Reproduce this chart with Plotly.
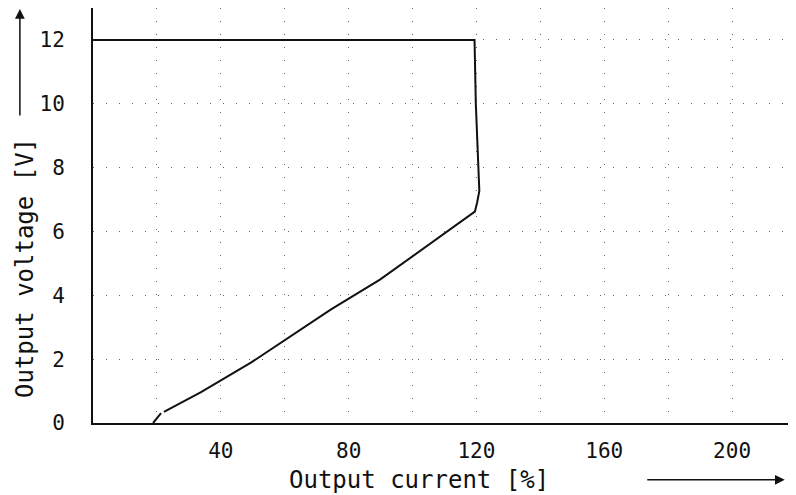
import plotly.graph_objects as go

# Data
current = [0, 119.4, 119.8, 120.4, 120.8, 120.9, 120.2, 119.5, 89.8, 74.5, 49.4, 33.8, 22.2, None, 21.3, 19.9, 18.8]
voltage = [12, 12, 10, 8.26, 7.74, 7.27, 6.90, 6.62, 4.49, 3.56, 1.89, 0.97, 0.35, None, 0.31, 0.14, 0]

x_grid = [20, 40, 60, 80, 100, 120, 140, 160, 180, 200]
x_labels = ["", "40", "", "80", "", "120", "", "160", "", "200"]
y_ticks = [0, 2, 4, 6, 8, 10, 12]
y_labels = ["0", "2", "4", "6", "8", "10", "12"]

FONT = "DejaVu Sans Mono"
INK = "#111111"

fig = go.Figure()
fig.add_trace(go.Scatter(x=current, y=voltage, mode="lines",
                         line=dict(color=INK, width=2), showlegend=False,
                         connectgaps=False))

grid = dict(showgrid=True, gridcolor="#666666", gridwidth=1, griddash="1px,12px",
            zeroline=False, showline=True, linecolor=INK, linewidth=2,
            ticks="", tickfont=dict(family=FONT, size=21, color=INK))

fig.update_xaxes(range=[0, 220], tickvals=x_grid, ticktext=x_labels,
                 ticklabelstandoff=8, **grid)
fig.update_yaxes(range=[0, 13], tickvals=y_ticks, ticktext=y_labels,
                 ticklabelstandoff=22, **grid)

fig.add_annotation(text="Output current [%]", xref="paper", yref="paper",
                   x=0.4637, y=-0.137, xanchor="center", yanchor="middle",
                   showarrow=False, font=dict(family=FONT, size=24, color=INK))
fig.add_annotation(text="Output voltage [V]", xref="paper", yref="paper",
                   x=-0.0967, y=0.3735, xanchor="center", yanchor="middle",
                   textangle=-90, showarrow=False,
                   font=dict(family=FONT, size=24, color=INK))
# axis direction arrows
fig.add_annotation(text="", xref="paper", yref="paper", x=0.984, y=-0.137,
                   ax=-139, ay=0, showarrow=True, arrowhead=2, arrowsize=1.3,
                   arrowwidth=1.5, arrowcolor=INK)
fig.add_annotation(text="", xref="paper", yref="paper", x=-0.104, y=1.0,
                   ax=0, ay=109, showarrow=True, arrowhead=2, arrowsize=1.3,
                   arrowwidth=1.5, arrowcolor=INK)

# page body has an 8px margin, so the figure is sized to fill the rest of the window
fig.update_layout(width=788, height=487, autosize=False,
                  margin=dict(l=85, r=0, t=0, b=72),
                  paper_bgcolor="white", plot_bgcolor="white",
                  font=dict(family=FONT, color=INK))

fig.write_html("out.html")
